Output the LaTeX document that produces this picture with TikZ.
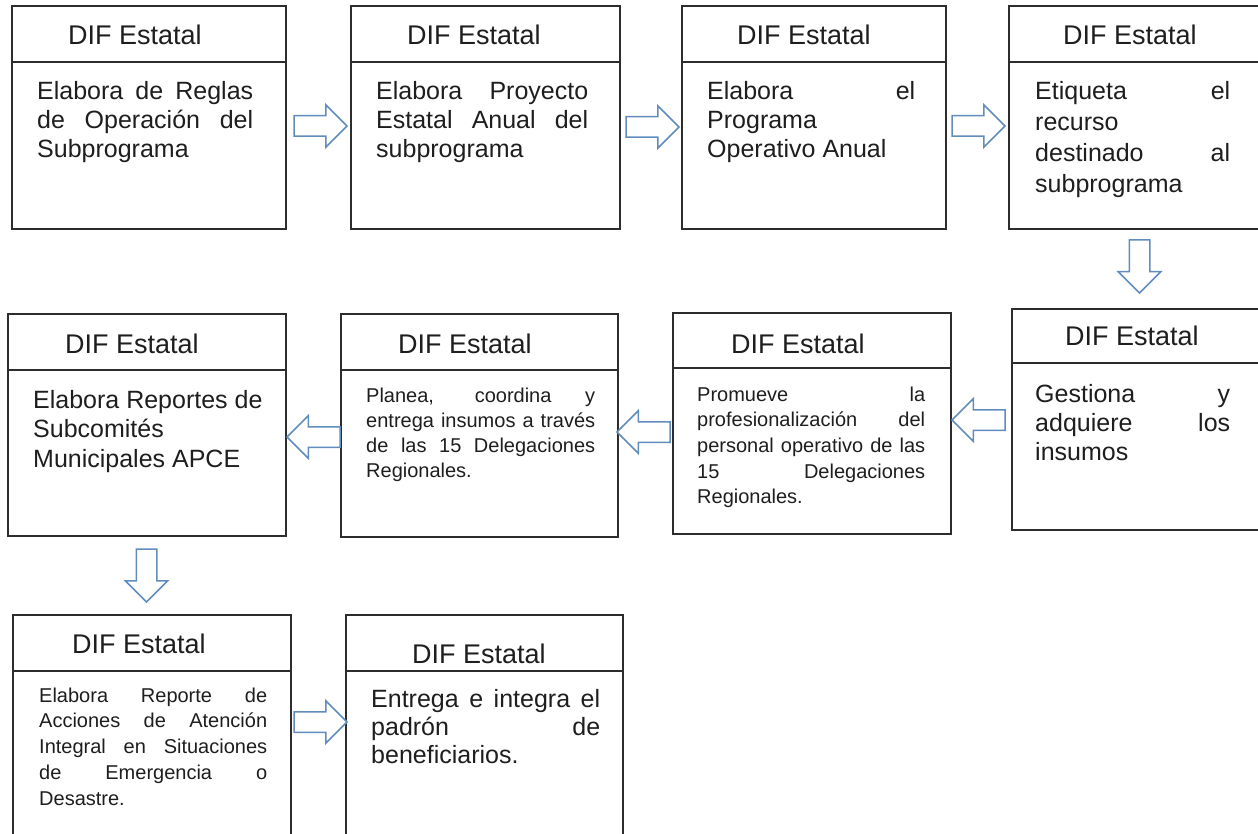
\documentclass[tikz,border=0pt]{standalone}
\usepackage{fontspec}
\setmainfont{Liberation Sans}
\usetikzlibrary{shapes.arrows,calc}
\definecolor{boxc}{RGB}{45,45,45}
\definecolor{arrc}{RGB}{96,141,190}
\definecolor{txtc}{RGB}{30,30,30}
\newcommand\JL[2]{\hbox to #1pt{#2}}
\newcommand\LL[1]{\hbox{#1}}
\newcommand\bodytext[3]{\fontsize{#1}{#2}\selectfont\vtop{\baselineskip=#2pt\lineskiplimit=-100pt\lineskip=0pt #3}}
\tikzset{
  boxn/.style={draw=boxc, line width=1.6pt, anchor=north west, inner sep=0pt, outer sep=0pt},
  divl/.style={draw=boxc, line width=1.6pt},
  hdr/.style={anchor=base west, inner sep=0pt, text=txtc, font=\fontsize{27}{30}\selectfont},
  bod/.style={anchor=base west, inner sep=0pt, text=txtc},
  barrow/.style={single arrow, draw=arrc, line width=1.5pt, fill=white, inner xsep=0pt,
    inner ysep=9.5pt, single arrow head extend=11pt, minimum height=53pt, minimum width=0pt,
    outer sep=0pt, anchor=tip}
}
\begin{document}
\begin{tikzpicture}[x=1pt,y=-1pt]
\useasboundingbox (0,0) rectangle (1258,834);
\clip (0,0) rectangle (1258,834);

% boxes
\node[boxn, minimum width=274pt, minimum height=223pt] (b1) at (12,6) {};
\node[boxn, minimum width=269pt, minimum height=223pt] (b2) at (351,6) {};
\node[boxn, minimum width=264pt, minimum height=223pt] (b3) at (682,6) {};
\node[boxn, minimum width=256pt, minimum height=223pt] (b4) at (1009,6) {};
\node[boxn, minimum width=278pt, minimum height=222pt] (b5) at (8,314) {};
\node[boxn, minimum width=277pt, minimum height=223pt] (b6) at (341,314) {};
\node[boxn, minimum width=278pt, minimum height=221pt] (b7) at (673,313) {};
\node[boxn, minimum width=253pt, minimum height=221pt] (b8) at (1012,309) {};
\node[boxn, minimum width=278pt, minimum height=245pt] (b9) at (13,615) {};
\node[boxn, minimum width=277pt, minimum height=245pt] (b10) at (346,615) {};

% header dividers
\draw[divl] (b1.west |- 0,62) -- (b1.east |- 0,62);
\draw[divl] (b2.west |- 0,62) -- (b2.east |- 0,62);
\draw[divl] (b3.west |- 0,62) -- (b3.east |- 0,62);
\draw[divl] (b4.west |- 0,62) -- (b4.east |- 0,62);
\draw[divl] (b5.west |- 0,370) -- (b5.east |- 0,370);
\draw[divl] (b6.west |- 0,370) -- (b6.east |- 0,370);
\draw[divl] (b7.west |- 0,368) -- (b7.east |- 0,368);
\draw[divl] (b8.west |- 0,363) -- (b8.east |- 0,363);
\draw[divl] (b9.west |- 0,671) -- (b9.east |- 0,671);
\draw[divl] (b10.west |- 0,671) -- (b10.east |- 0,671);

% headers
\node[hdr] (h1) at (68,45) {DIF Estatal};
\node[hdr] (h2) at (407,45) {DIF Estatal};
\node[hdr] (h3) at (737,45) {DIF Estatal};
\node[hdr] (h4) at (1063,45) {DIF Estatal};
\node[hdr] (h5) at (65,353) {DIF Estatal};
\node[hdr] (h6) at (398,353) {DIF Estatal};
\node[hdr] (h7) at (731,353) {DIF Estatal};
\node[hdr] (h8) at (1065,345) {DIF Estatal};
\node[hdr] (h9) at (72,653) {DIF Estatal};
\node[hdr] (h10) at (412,663) {DIF Estatal};

% bodies
\node[bod] (t1) at (37,100) {\bodytext{25}{29}{\JL{216}{Elabora de Reglas}\JL{216}{de Operación del}\LL{Subprograma}}};
\node[bod] (t2) at (376,100) {\bodytext{25}{29}{\JL{212}{Elabora Proyecto}\JL{212}{Estatal Anual del}\LL{subprograma}}};
\node[bod] (t3) at (707,100) {\bodytext{25}{29}{\JL{208}{Elabora el}\LL{Programa}\LL{Operativo Anual}}};
\node[bod] (t4) at (1035,100) {\bodytext{25}{31}{\JL{195}{Etiqueta el}\LL{recurso}\JL{195}{destinado al}\LL{subprograma}}};
\node[bod] (t5) at (33,408) {\bodytext{25}{29.5}{\LL{Elabora Reportes de}\LL{Subcomités}\LL{Municipales APCE}}};
\node[bod] (t6) at (366,402) {\bodytext{20}{25}{\JL{229}{Planea, coordina y}\JL{229}{entrega insumos a través}\JL{229}{de las 15 Delegaciones}\LL{Regionales.}}};
\node[bod] (t7) at (697,401) {\bodytext{20}{25.7}{\JL{228}{Promueve la}\JL{228}{profesionalización del}\JL{228}{personal operativo de las}\JL{228}{15 Delegaciones}\LL{Regionales.}}};
\node[bod] (t8) at (1035,402) {\bodytext{25}{29}{\JL{195}{Gestiona y}\JL{195}{adquiere los}\LL{insumos}}};
\node[bod] (t9) at (39,702) {\bodytext{20}{25.8}{\JL{228}{Elabora Reporte de}\JL{228}{Acciones de Atención}\JL{228}{Integral en Situaciones}\JL{228}{de Emergencia o}\LL{Desastre.}}};
\node[bod] (t10) at (371,707) {\bodytext{25}{28}{\JL{229}{Entrega e integra el}\JL{229}{padrón de}\LL{beneficiarios.}}};

% block arrows
\node[barrow] (a12) at ($(b2.west |- 0,126)+(-4,0)$) {};
\node[barrow] (a23) at ($(b3.west |- 0,127)+(-3,0)$) {};
\node[barrow] (a34) at ($(b4.west |- 0,126)+(-4,0)$) {};
\node[barrow, rotate=-90] (a48) at ($(b8.north -| 1139.5,0)+(0,-16)$) {};
\node[barrow, shape border rotate=180] (a87) at ($(b7.east |- 0,420)+(1,0)$) {};
\node[barrow, shape border rotate=180] (a76) at ($(b6.east |- 0,432)+(-1,0)$) {};
\node[barrow, shape border rotate=180] (a65) at ($(b5.east |- 0,437)+(1,0)$) {};
\node[barrow, rotate=-90] (a59) at ($(b9.north -| 146.5,0)+(0,-13)$) {};
\node[barrow] (a910) at ($(b10.west |- 0,722)+(1,0)$) {};
\end{tikzpicture}
\end{document}
